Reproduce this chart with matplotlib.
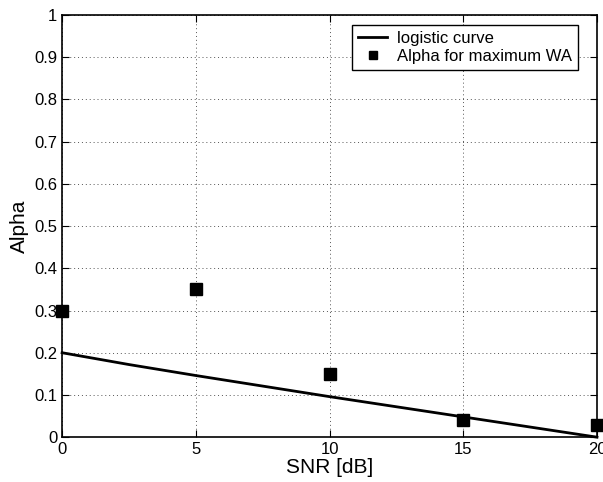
import matplotlib
matplotlib.use("Agg")
import matplotlib.pyplot as plt

plt.rcParams['font.family'] = ['Liberation Sans', 'DejaVu Sans']

# logistic curve
curve_snr = [0, 2.5, 5, 7.5, 10, 12.5, 15, 17.5, 20]
curve_alpha = [0.2, 0.172, 0.146, 0.121, 0.096, 0.072, 0.048, 0.024, 0.0]

# best alpha per SNR
snr = [0, 5, 10, 15, 20]
alpha = [0.30, 0.35, 0.15, 0.04, 0.03]

fig = plt.figure(figsize=(6.03, 4.82), dpi=100)
ax = fig.add_axes([0.103, 0.093, 0.887, 0.876])

ax.plot(curve_snr, curve_alpha, color='black', linewidth=2, label='logistic curve', clip_on=False)
ax.plot(snr, alpha, linestyle='none', marker='s', markersize=8, color='black',
        markeredgecolor='black', label='Alpha for maximum WA', clip_on=False, zorder=5)

ax.set_xlim(0, 20)
ax.set_ylim(0, 1)
ax.set_xticks([0, 5, 10, 15, 20])
ax.set_yticks([i / 10 for i in range(11)])
ax.set_yticklabels(['0'] + ['%.1f' % (i / 10) for i in range(1, 10)] + ['1'])
ax.tick_params(direction='in', top=True, right=True, labelsize=12, length=5)
ax.grid(True, linestyle=(0, (1, 3)), color='#555555', linewidth=0.7)
for s in ax.spines.values():
    s.set_linewidth(1.2)

ax.set_xlabel('SNR [dB]', fontsize=15, labelpad=1)
ax.set_ylabel('Alpha', fontsize=15, labelpad=4)

leg = ax.legend(loc='upper right', fontsize=12, fancybox=False, edgecolor='black',
                framealpha=1, borderpad=0.35, handlelength=1.75, handletextpad=0.6,
                labelspacing=0.15, markerscale=0.75,
                bbox_to_anchor=(0.965, 0.975), borderaxespad=0)
leg.get_frame().set_linewidth(1.0)

fig.savefig('out.png', dpi=100)
